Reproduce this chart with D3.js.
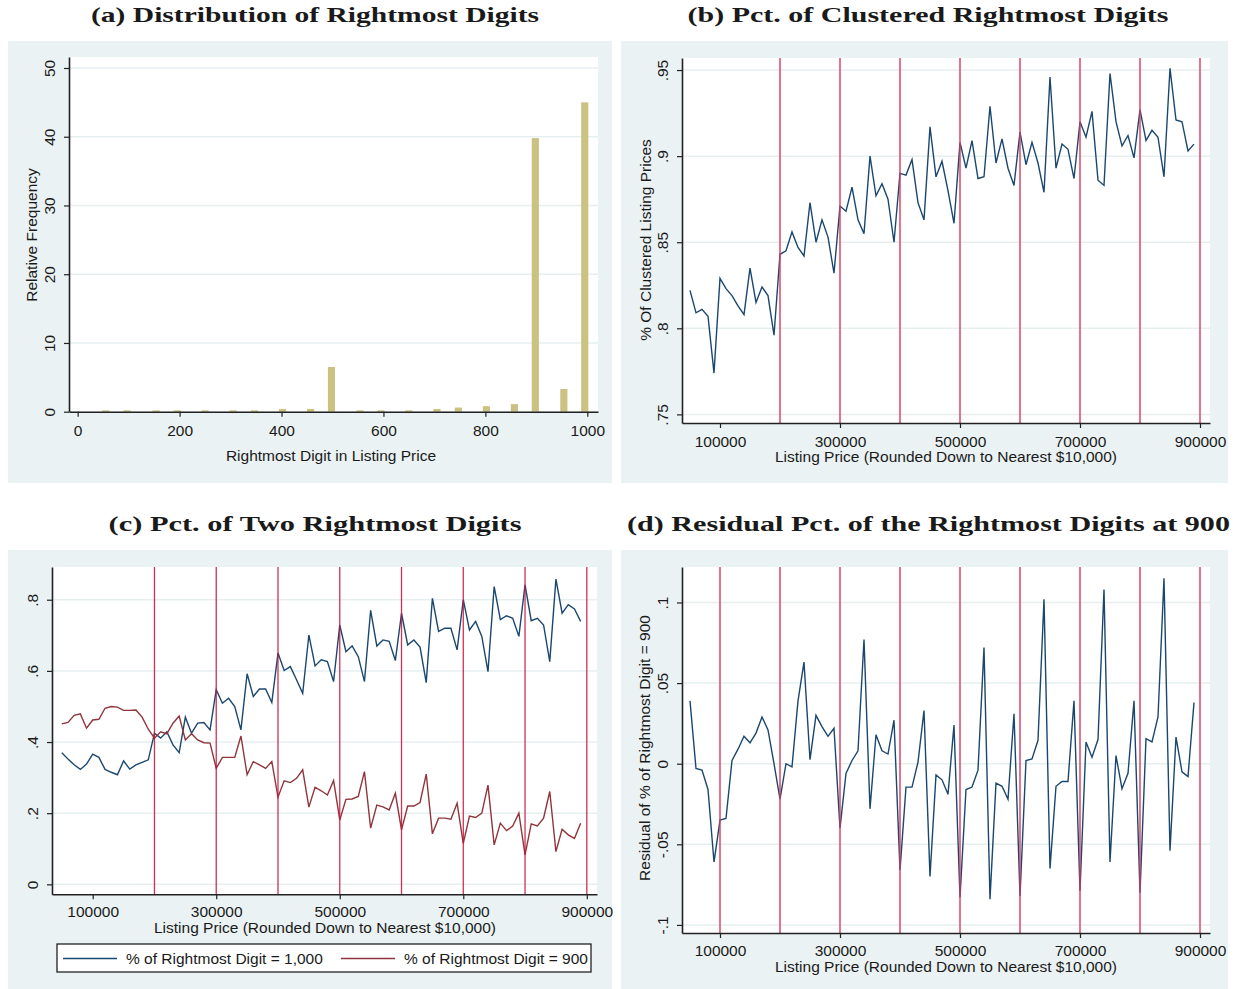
<!DOCTYPE html>
<html>
<head>
<meta charset="utf-8">
<script src="https://cdn.jsdelivr.net/npm/d3@7"></script>
<style>
  body { margin: 0; background: #fff; }
  svg text { font-family: "Liberation Sans", Arial, sans-serif; fill: #1a1a1a; }
</style>
</head>
<body>
<svg id="fig" width="1237" height="989"></svg>
<script>
/* ---- data ---- */

// (a) rightmost digit histogram
const digitBins = [55, 97, 154, 195, 250, 305, 347, 402, 457, 498, 554, 595, 650, 705, 747, 802, 857, 898, 954, 995];
const digitFreq = [0.2, 0.2, 0.2, 0.2, 0.2, 0.2, 0.2, 0.4, 0.4, 6.5, 0.2, 0.2, 0.2, 0.4, 0.6, 0.8, 1.1, 39.8, 3.3, 45.0];

// listing price bins (rounded down to nearest $10,000)
const listPrice = [
  50000, 60000, 70000, 80000, 90000, 100000, 110000, 120000, 130000, 140000,
  150000, 160000, 170000, 180000, 190000, 200000, 210000, 220000, 230000, 240000,
  250000, 260000, 270000, 280000, 290000, 300000, 310000, 320000, 330000, 340000,
  350000, 360000, 370000, 380000, 390000, 400000, 410000, 420000, 430000, 440000,
  450000, 460000, 470000, 480000, 490000, 500000, 510000, 520000, 530000, 540000,
  550000, 560000, 570000, 580000, 590000, 600000, 610000, 620000, 630000, 640000,
  650000, 660000, 670000, 680000, 690000, 700000, 710000, 720000, 730000, 740000,
  750000, 760000, 770000, 780000, 790000, 800000, 810000, 820000, 830000, 840000,
  850000, 860000, 870000, 880000, 890000
];

// (b) share of clustered listing prices
const pctClustered = [
  .822, .809, .811, .807, .774, .829, .823, .819, .813, .808,
  .835, .815, .824, .819, .796, .843, .845, .856, .847, .842,
  .873, .850, .863, .853, .832, .871, .868, .882, .863, .855,
  .900, .877, .884, .875, .850, .890, .889, .898, .873, .863,
  .917, .888, .897, .880, .861, .908, .893, .909, .887, .888,
  .929, .896, .910, .893, .883, .914, .895, .908, .896, .879,
  .946, .893, .907, .904, .887, .920, .911, .926, .886, .883,
  .948, .920, .906, .912, .899, .927, .909, .915, .911, .888,
  .951, .921, .920, .903, .907
];

// (c) share with rightmost digit = 1,000 and = 900
const pctDigit1000 = [
  .370, .352, .336, .323, .338, .366, .357, .323, .315, .308,
  .347, .324, .336, .343, .350, .425, .411, .429, .392, .370,
  .470, .425, .453, .455, .434, .547, .509, .523, .500, .434,
  .592, .528, .549, .549, .511, .650, .601, .612, .575, .537,
  .701, .614, .631, .626, .570, .729, .654, .670, .640, .570,
  .770, .670, .687, .683, .629, .762, .673, .687, .667, .567,
  .804, .711, .720, .720, .659, .800, .715, .739, .697, .598,
  .837, .744, .755, .748, .697, .842, .741, .748, .729, .626,
  .858, .762, .786, .774, .739
];
const pctDigit900 = [
  .451, .455, .475, .479, .439, .462, .464, .495, .500, .498,
  .489, .489, .490, .470, .436, .411, .429, .423, .453, .473,
  .406, .423, .406, .398, .397, .326, .357, .357, .357, .417,
  .308, .345, .336, .326, .345, .245, .291, .286, .298, .322,
  .217, .273, .263, .251, .292, .181, .239, .240, .247, .317,
  .158, .223, .218, .209, .256, .153, .220, .220, .230, .310,
  .142, .186, .186, .183, .228, .115, .192, .188, .200, .279,
  .111, .172, .151, .164, .200, .083, .170, .164, .186, .261,
  .092, .155, .139, .129, .172
];

// (d) residual share of rightmost digit = 900
const residual900 = [
  .039, -.003, -.004, -.016, -.061, -.035, -.034, .002, .009, .017,
  .013, .019, .029, .021, .000, -.022, .000, -.002, .039, .063,
  .0025, .030, .023, .017, .022, -.040, -.006, .002, .008, .077,
  -.028, .018, .008, .006, .027, -.066, -.0145, -.0145, .001, .033,
  -.070, -.007, -.010, -.019, .024, -.083, -.016, -.0145, -.004, .072,
  -.084, -.012, -.014, -.022, .031, -.082, .002, .003, .0145, .102,
  -.065, -.014, -.011, -.011, .039, -.079, .0135, .004, .015, .108,
  -.061, .005, -.0155, -.006, .039, -.080, .0155, .0135, .029, .115,
  -.054, .0165, -.005, -.008, .038
];

// tick values and reference lines
const digitTicks = [0, 200, 400, 600, 800, 1000];
const freqTicks = [0, 10, 20, 30, 40, 50];
const priceTicks = [100000, 300000, 500000, 700000, 900000];
const clusteredTicks = [.75, .8, .85, .9, .95];
const shareTicks = [0, .2, .4, .6, .8];
const residualTicks = [-.1, -.05, 0, .05, .1];
const xlinesBC = [200000, 300000, 400000, 500000, 600000, 700000, 800000, 900000];
const xlinesD = [100000, 200000, 300000, 400000, 500000, 600000, 700000, 800000, 900000];

const legendLabels = ["% of Rightmost Digit = 1,000", "% of Rightmost Digit = 900"];

/* ---- styles ---- */
const BG = "#eaf2f3";
const GRID = "#e6eff0";
const NAVY = "#1a476f";
const MAROON = "#90353b";
const BAR = "#cbc180";
const FS = 15.5;

const svg = d3.select("#fig");

// Stata style decimal labels: .95, -.05, 0
const decFmt = d => d === 0 ? "0" : String(+d.toFixed(3)).replace("0.", ".");

function title(text, cx, baseline, width) {
    svg.append("text")
        .attr("x", cx)
        .attr("y", baseline)
        .attr("text-anchor", "middle")
        .attr("textLength", width)
        .attr("lengthAdjust", "spacingAndGlyphs")
        .style("font-family", "'Liberation Serif', 'DejaVu Serif', serif")
        .style("font-weight", "bold")
        .style("font-size", "22px")
        .text(text);
}

/**
 * Builds one panel: background, white plot region, grid and axes
 */
function panel(cfg) {
    const g = svg.append("g");
    g.append("rect")
        .attr("x", cfg.bg[0]).attr("y", cfg.bg[1])
        .attr("width", cfg.bg[2] - cfg.bg[0]).attr("height", cfg.bg[3] - cfg.bg[1])
        .attr("fill", BG);
    g.append("rect")
        .attr("x", cfg.left).attr("y", cfg.top)
        .attr("width", cfg.right - cfg.left).attr("height", cfg.bottom - cfg.top)
        .attr("fill", "#fff");

    const x = d3.scaleLinear().domain(cfg.xDomain).range([cfg.left, cfg.right]);
    const y = d3.scaleLinear().domain(cfg.yDomain).range([cfg.bottom, cfg.top]);

    g.selectAll("line.grid")
        .data(cfg.yTicks)
        .join("line")
        .attr("class", "grid")
        .attr("x1", cfg.left).attr("x2", cfg.right)
        .attr("y1", d => y(d)).attr("y2", d => y(d))
        .attr("stroke", GRID)
        .attr("stroke-width", 1.5);

    const plot = g.append("g");

    // y axis with vertical labels
    const ya = g.append("g")
        .attr("transform", `translate(${cfg.left},0)`)
        .call(d3.axisLeft(y).tickValues(cfg.yTicks).tickFormat(cfg.yFmt).tickSize(5).tickSizeOuter(0));
    ya.attr("font-size", FS).attr("font-family", null);
    ya.selectAll("text")
        .attr("transform", "rotate(-90)")
        .attr("x", 0)
        .attr("y", -14)
        .attr("dy", 0)
        .attr("text-anchor", "middle");

    // x axis
    const xa = g.append("g")
        .attr("transform", `translate(0,${cfg.bottom})`)
        .call(d3.axisBottom(x).tickValues(cfg.xTicks).tickFormat(d3.format("d")).tickSize(5).tickSizeOuter(0));
    xa.attr("font-size", FS).attr("font-family", null);
    xa.selectAll("text").attr("y", cfg.xLabOff || 18.5).attr("dy", "0.35em");

    [ya, xa].forEach(a => {
        a.select(".domain").attr("stroke", "#222").attr("stroke-width", 1.6);
        a.selectAll(".tick line").attr("stroke", "#222").attr("stroke-width", 1.2);
    });

    // axis titles
    if (cfg.xTitle) {
        g.append("text")
            .attr("x", cfg.xTitle[1]).attr("y", cfg.xTitle[2])
            .attr("dy", "0.35em")
            .attr("text-anchor", "middle")
            .style("font-size", FS + "px")
            .text(cfg.xTitle[0]);
    }
    if (cfg.yTitle) {
        g.append("text")
            .attr("transform", `translate(${cfg.yTitle[1]},${cfg.yTitle[2]}) rotate(-90)`)
            .attr("dy", "0.35em")
            .attr("text-anchor", "middle")
            .style("font-size", FS + "px")
            .text(cfg.yTitle[0]);
    }
    return { plot, x, y, cfg };
}

function refLines(p, values, color, width) {
    p.plot.selectAll("line.xline")
        .data(values)
        .join("line")
        .attr("class", "xline")
        .attr("x1", d => p.x(d)).attr("x2", d => p.x(d))
        .attr("y1", p.cfg.top).attr("y2", p.cfg.bottom)
        .attr("stroke", color)
        .attr("stroke-opacity", 0.88)
        .attr("stroke-width", width);
}

function seriesLine(p, values, color) {
    const line = d3.line()
        .x((d, i) => p.x(listPrice[i]))
        .y(d => p.y(d));
    p.plot.append("path")
        .datum(values)
        .attr("d", line)
        .attr("fill", "none")
        .attr("stroke", color)
        .attr("stroke-width", 1.4)
        .attr("stroke-linejoin", "miter");
}

const priceTitle = "Listing Price (Rounded Down to Nearest $10,000)";

/* ---- (a) distribution of rightmost digits ---- */
title("(a) Distribution of Rightmost Digits", 315, 22, 448);
const pa = panel({
    bg: [8, 41, 612, 483],
    left: 69, right: 598, top: 57, bottom: 411.7,
    xDomain: [-17, 1021], yDomain: [0, 51.6],
    xTicks: digitTicks, yTicks: freqTicks, yFmt: d3.format("d"),
    xTitle: ["Rightmost Digit in Listing Price", 331, 455.5],
    yTitle: ["Relative Frequency", 32, 235]
});
pa.plot.selectAll("rect.bar")
    .data(digitBins)
    .join("rect")
    .attr("class", "bar")
    .attr("x", d => pa.x(d - 7))
    .attr("width", d => pa.x(d + 7) - pa.x(d - 7))
    .attr("y", (d, i) => pa.y(digitFreq[i]))
    .attr("height", (d, i) => pa.y(0) - pa.y(digitFreq[i]))
    .attr("fill", BAR);

/* ---- (b) pct of clustered rightmost digits ---- */
title("(b) Pct. of Clustered Rightmost Digits", 928, 22, 481);
const pb = panel({
    bg: [621, 41, 1228, 483],
    left: 682, right: 1210, top: 58, bottom: 423,
    xDomain: [36667, 916667], yDomain: [.745, .957],
    xTicks: priceTicks, yTicks: clusteredTicks, yFmt: decFmt,
    xTitle: [priceTitle, 946, 456.5],
    yTitle: ["% Of Clustered Listing Prices", 645.5, 240]
});
seriesLine(pb, pctClustered, NAVY);
refLines(pb, xlinesBC, "#d93a5e", 1.6);

/* ---- (c) pct of two rightmost digits ---- */
title("(c) Pct. of Two Rightmost Digits", 315, 531, 413);
const pc = panel({
    bg: [8, 550, 612, 989],
    left: 52, right: 597, top: 567, bottom: 894.3,
    xDomain: [34100, 916500], yDomain: [-.028, .892],
    xTicks: priceTicks, yTicks: shareTicks, yFmt: decFmt,
    xLabOff: 17.3,
    xTitle: [priceTitle, 325, 927.5]
});
seriesLine(pc, pctDigit1000, NAVY);
seriesLine(pc, pctDigit900, MAROON);
refLines(pc, xlinesBC, "#c8143c", 1.3);

// legend
const leg = svg.append("g");
leg.append("rect")
    .attr("x", 57).attr("y", 944).attr("width", 534).attr("height", 28)
    .attr("fill", "#fff").attr("stroke", "#222").attr("stroke-width", 1.3);
leg.selectAll("g.item")
    .data(legendLabels)
    .join("g")
    .attr("class", "item")
    .attr("transform", (d, i) => `translate(${i === 0 ? 63 : 341},958.5)`)
    .each(function(d, i) {
        const it = d3.select(this);
        it.append("line")
            .attr("x1", 0).attr("x2", 54)
            .attr("stroke", i === 0 ? NAVY : MAROON).attr("stroke-width", 1.4);
        it.append("text")
            .attr("x", 63).attr("dy", "0.35em")
            .style("font-size", FS + "px")
            .text(d);
    });

/* ---- (d) residual pct of the rightmost digits at 900 ---- */
title("(d) Residual Pct. of the Rightmost Digits at 900", 928.5, 531, 603);
const pd = panel({
    bg: [621, 550, 1228, 989],
    left: 682, right: 1210, top: 567, bottom: 933,
    xDomain: [36667, 916667], yDomain: [-.105, .122],
    xTicks: priceTicks, yTicks: residualTicks, yFmt: decFmt,
    xLabOff: 17.3,
    xTitle: [priceTitle, 946, 966.3],
    yTitle: ["Residual of % of Rightmost Digit = 900", 645, 748]
});
seriesLine(pd, residual900, NAVY);
refLines(pd, xlinesD, "#d93a5e", 1.6);
</script>
</body>
</html>
